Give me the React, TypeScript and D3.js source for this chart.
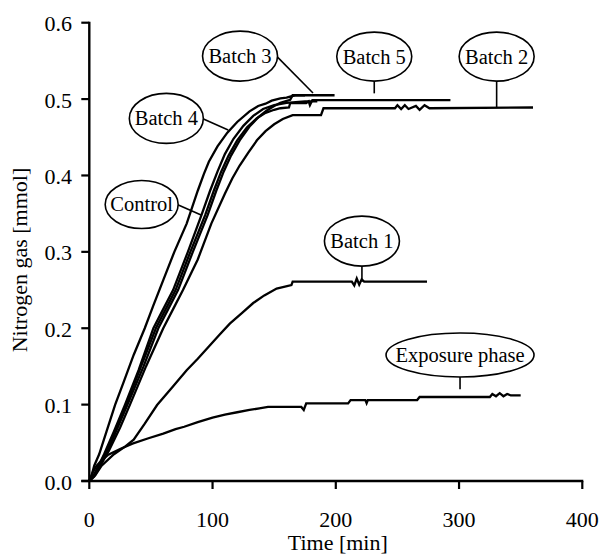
import React from 'react';
import * as d3 from 'd3';

const W = 607;
const H = 554;

const xTicks = [0, 100, 200, 300, 400];
const yTicks = [0, 0.1, 0.2, 0.3, 0.4, 0.5, 0.6];

type Pt = [number, number]; // [time (min), nitrogen gas (mmol)]

const batch4: Pt[] = [
  [0, 0], [2, 0.008], [4, 0.02], [8, 0.035], [14, 0.065], [21, 0.1], [28, 0.13], [36, 0.165],
  [45, 0.2], [52, 0.23], [60, 0.263], [69, 0.3], [79, 0.337], [88, 0.38], [93, 0.402], [97, 0.418],
  [104, 0.438], [112, 0.456], [120, 0.47], [130, 0.484], [137, 0.491], [143, 0.494],
  [148, 0.498], [155, 0.501], [160, 0.502], [167, 0.505], [175, 0.505],
];

const control: Pt[] = [
  [0, 0], [3, 0.005], [6, 0.015], [12, 0.035], [20, 0.065], [29, 0.1], [40, 0.145], [52, 0.2],
  [60, 0.225], [68, 0.25], [80, 0.3], [91, 0.348], [98, 0.38], [104, 0.405], [110, 0.428], [117, 0.448],
  [125, 0.465], [133, 0.478], [141, 0.487], [150, 0.492], [160, 0.495], [175, 0.497], [185, 0.497],
];

const batch5: Pt[] = [
  [0, 0], [4, 0.008], [8, 0.02], [14, 0.04], [22, 0.07], [30, 0.1], [42, 0.15], [54, 0.2],
  [62, 0.225], [70, 0.25], [82, 0.3], [94, 0.348], [101, 0.38], [107, 0.405], [113, 0.426], [120, 0.446],
  [128, 0.463], [136, 0.475], [143, 0.482], [150, 0.486], [155, 0.488], [162, 0.489], [163, 0.4948],
  [176, 0.4948], [178, 0.497], [179, 0.492], [181, 0.4987], [293, 0.4987],
];

const batch3: Pt[] = [
  [0, 0], [4, 0.008], [8, 0.02], [15, 0.04], [23, 0.07], [31, 0.1], [44, 0.15], [56, 0.2],
  [64, 0.225], [72, 0.25], [84, 0.3], [96, 0.348], [103, 0.38], [109, 0.405], [115, 0.426], [122, 0.446],
  [130, 0.464], [137, 0.476], [144, 0.485], [150, 0.491], [155, 0.495], [163, 0.499],
  [165, 0.505], [199, 0.505],
];

const batch2: Pt[] = [
  [0, 0], [4, 0.006], [9, 0.02], [16, 0.04], [25, 0.07], [33, 0.1], [46, 0.15], [60, 0.2],
  [68, 0.225], [76, 0.25], [88, 0.29], [99, 0.337], [110, 0.376], [116, 0.396], [122, 0.413],
  [129, 0.43], [136, 0.446], [143, 0.458], [150, 0.467], [157, 0.474], [165, 0.479], [188, 0.479], [190, 0.488],
  [248, 0.488], [250, 0.492], [253, 0.487], [256, 0.492], [259, 0.487], [265, 0.491],
  [268, 0.486], [272, 0.492], [276, 0.488], [360, 0.489],
];

const batch1: Pt[] = [
  [0, 0], [5, 0.008], [10, 0.02], [20, 0.035], [29, 0.045], [36, 0.054], [45, 0.075],
  [55, 0.0995], [67, 0.122], [79, 0.145], [88, 0.16], [97, 0.176], [106, 0.192], [114, 0.206],
  [124, 0.22], [133, 0.233], [142, 0.243], [152, 0.252], [164, 0.2565], [165, 0.261],
  [213, 0.261], [215, 0.256], [217, 0.265], [219, 0.257], [221, 0.264], [223, 0.261],
  [274, 0.261],
];

const exposure: Pt[] = [
  [0, 0], [3, 0.012], [6, 0.02], [10, 0.027], [15, 0.034], [25, 0.042], [35, 0.049],
  [48, 0.056], [60, 0.062], [70, 0.068], [77, 0.071], [88, 0.077], [100, 0.083], [110, 0.087],
  [120, 0.09], [130, 0.093], [138, 0.095], [145, 0.097], [172, 0.097], [174, 0.093],
  [176, 0.1017], [210, 0.1017], [212, 0.106], [224, 0.106], [225, 0.102], [226, 0.106],
  [266, 0.106], [268, 0.11], [325, 0.11], [327, 0.114], [330, 0.111], [333, 0.115],
  [336, 0.111], [339, 0.114], [342, 0.112], [350, 0.112],
];

const seriesList: Pt[][] = [exposure, batch1, batch2, batch5, batch3, control, batch4];

// Callout labels: ellipse centre and leader end are given in data units
type Callout = {
  label: string;
  cx: number; cy: number; rx: number; ry: number;
  anchor: 'right' | 'bottom';
  tx: number; ty: number;
};

const callouts: Callout[] = [
  { label: 'Batch 3', cx: 122.3, cy: 0.5563, rx: 37.5, ry: 25, anchor: 'right', tx: 181.5, ty: 0.508 },
  { label: 'Batch 4', cx: 62.5, cy: 0.4747, rx: 37, ry: 25, anchor: 'right', tx: 112.7, ty: 0.4594 },
  { label: 'Control', cx: 42.5, cy: 0.362, rx: 36.5, ry: 24, anchor: 'right', tx: 91.2, ty: 0.348 },
  { label: 'Batch 5', cx: 231.2, cy: 0.5556, rx: 37.5, ry: 24.5, anchor: 'bottom', tx: 231.2, ty: 0.5075 },
  { label: 'Batch 2', cx: 330.5, cy: 0.5556, rx: 37.5, ry: 24.5, anchor: 'bottom', tx: 330.5, ty: 0.489 },
  { label: 'Batch 1', cx: 221.2, cy: 0.3141, rx: 37.5, ry: 25, anchor: 'bottom', tx: 221.2, ty: 0.261 },
  { label: 'Exposure phase', cx: 300.8, cy: 0.165, rx: 74, ry: 22, anchor: 'bottom', tx: 300.8, ty: 0.12 },
];

const FONT = "'Liberation Serif', Tinos, 'Times New Roman', Times, 'Nimbus Roman', 'DejaVu Serif', serif";

export default function App() {
  const x = d3.scaleLinear().domain([0, 400]).range([89.3, 582.3]);
  const y = d3.scaleLinear().domain([0, 0.6]).range([481, 22.7]);
  const line = d3.line<Pt>().x((d) => x(d[0])).y((d) => y(d[1]));
  const fmt = d3.format('.1f');
  const textStyle = { fontFamily: FONT };

  return (
    <svg
      width={W}
      height={H}
      viewBox={`0 0 ${W} ${H}`}
      style={{ position: 'absolute', left: 0, top: 0, background: '#fff', display: 'block' }}
    >
      <rect x={0} y={0} width={W} height={H} fill="#fff" />

      {/* data curves */}
      {seriesList.map((s, i) => (
        <path
          key={i}
          d={line(s) || ''}
          fill="none"
          stroke="#000"
          strokeWidth={2.3}
          strokeLinejoin="miter"
        />
      ))}

      {/* y axis */}
      <line x1={x(0)} x2={x(0)} y1={y(0.6) - 1} y2={y(0) + 1} stroke="#000" strokeWidth={2.4} />
      {yTicks.map((t) => (
        <g key={`y${t}`}>
          <line x1={x(0) - 8} x2={x(0)} y1={y(t)} y2={y(t)} stroke="#000" strokeWidth={2.2} />
          <text x={72} y={y(t) + 8.5} textAnchor="end" fontSize={22} fill="#000" style={textStyle}>
            {fmt(t)}
          </text>
        </g>
      ))}

      {/* x axis */}
      <line x1={x(0) - 8} x2={x(400) + 1} y1={y(0)} y2={y(0)} stroke="#000" strokeWidth={2.4} />
      {xTicks.map((t) => (
        <g key={`x${t}`}>
          <line x1={x(t)} x2={x(t)} y1={y(0)} y2={y(0) + 8} stroke="#000" strokeWidth={2.2} />
          <text x={x(t)} y={527} textAnchor="middle" fontSize={22} fill="#000" style={textStyle}>
            {t}
          </text>
        </g>
      ))}

      <text x={x(200) + 2} y={550} textAnchor="middle" fontSize={22} fill="#000" style={textStyle}>
        Time [min]
      </text>
      <text
        transform={`translate(27, 260) rotate(-90)`}
        textAnchor="middle"
        fontSize={22}
        fill="#000"
        style={textStyle}
      >
        Nitrogen gas [mmol]
      </text>

      {/* callouts */}
      {callouts.map((c) => {
        const px = x(c.cx);
        const py = y(c.cy);
        const sx = c.anchor === 'right' ? px + c.rx - 1 : px;
        const sy = c.anchor === 'right' ? py : py + c.ry;
        const ex = c.anchor === 'right' ? x(c.tx) : px;
        const ey = y(c.ty);
        return (
          <g key={c.label}>
            <line x1={sx} y1={sy} x2={ex} y2={ey} stroke="#000" strokeWidth={1.6} />
            <ellipse cx={px} cy={py} rx={c.rx} ry={c.ry} fill="#fff" stroke="#000" strokeWidth={1.6} />
            <text x={px} y={py + 7} textAnchor="middle" fontSize={20.5} fill="#000" style={textStyle}>
              {c.label}
            </text>
          </g>
        );
      })}
    </svg>
  );
}
